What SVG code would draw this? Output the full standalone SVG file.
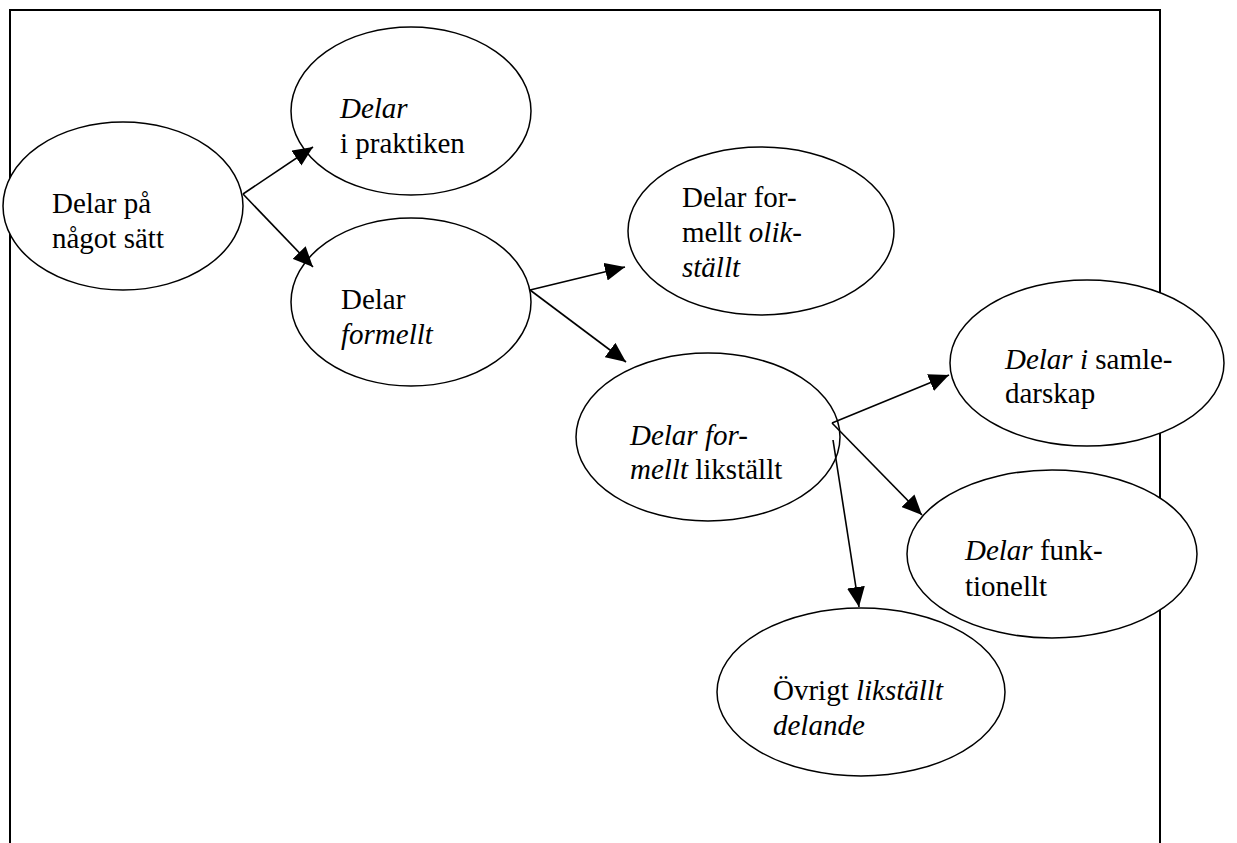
<svg xmlns="http://www.w3.org/2000/svg" width="1237" height="843" viewBox="0 0 1237 843">
<style>
.node ellipse{fill:#fff;stroke:#000;stroke-width:1.5}
.node text{font-family:'Liberation Serif','Times New Roman',serif;font-size:29px;fill:#000}
.i{font-style:italic}
.conn line{stroke:#000;stroke-width:1.6;marker-end:url(#ah)}
</style>
<defs>
<marker id="ah" markerUnits="userSpaceOnUse" markerWidth="21" markerHeight="18" refX="20" refY="9" orient="auto" viewBox="0 0 21 18">
<path d="M0,0 L20,9 L0,18 z" fill="#000"/>
</marker>
</defs>
<rect width="1237" height="843" fill="#fff"/>
<path id="frame" d="M10,843 V10 H1160 V843" fill="none" stroke="#000" stroke-width="2"/>
<g id="n1" class="node"><ellipse cx="123" cy="206" rx="120" ry="84"/><text x="52" y="213">Delar på</text><text x="52" y="248">något sätt</text></g>
<g id="n2" class="node"><ellipse cx="411" cy="111" rx="120" ry="84"/><text x="340" y="118" class="i">Delar</text><text x="340" y="153">i praktiken</text></g>
<g id="n3" class="node"><ellipse cx="411" cy="302" rx="120" ry="84"/><text x="341" y="309">Delar</text><text x="341" y="344" class="i">formellt</text></g>
<g id="n4" class="node"><ellipse cx="761" cy="231" rx="133" ry="84"/><text x="682" y="207">Delar for-</text><text x="682" y="242">mellt <tspan class="i">olik-</tspan></text><text x="682" y="277" class="i">ställt</text></g>
<g id="n5" class="node"><ellipse cx="708" cy="437" rx="132" ry="84"/><text x="630" y="445"><tspan class="i">Delar for-</tspan></text><text x="630" y="479"><tspan class="i">mellt</tspan> likställt</text></g>
<g id="n6" class="node"><ellipse cx="1087" cy="363" rx="137" ry="83"/><text x="1005" y="369"><tspan class="i">Delar i</tspan> samle-</text><text x="1005" y="403">darskap</text></g>
<g id="n7" class="node"><ellipse cx="1052" cy="554" rx="145" ry="84"/><text x="965" y="560"><tspan class="i">Delar</tspan> funk-</text><text x="965" y="596">tionellt</text></g>
<g id="n8" class="node"><ellipse cx="861" cy="692" rx="144" ry="84"/><text x="773" y="700">Övrigt <tspan class="i">likställt</tspan></text><text x="773" y="735" class="i">delande</text></g>
<g id="connectors" class="conn">
<line x1="243" y1="194" x2="313" y2="147"/>
<line x1="243" y1="194" x2="313" y2="267"/>
<line x1="530" y1="290" x2="625" y2="267"/>
<line x1="530" y1="290" x2="626" y2="362"/>
<line x1="832" y1="423" x2="949" y2="375"/>
<line x1="832" y1="423" x2="922" y2="515"/>
<line x1="833" y1="440" x2="859" y2="607"/>
</g>
</svg>
